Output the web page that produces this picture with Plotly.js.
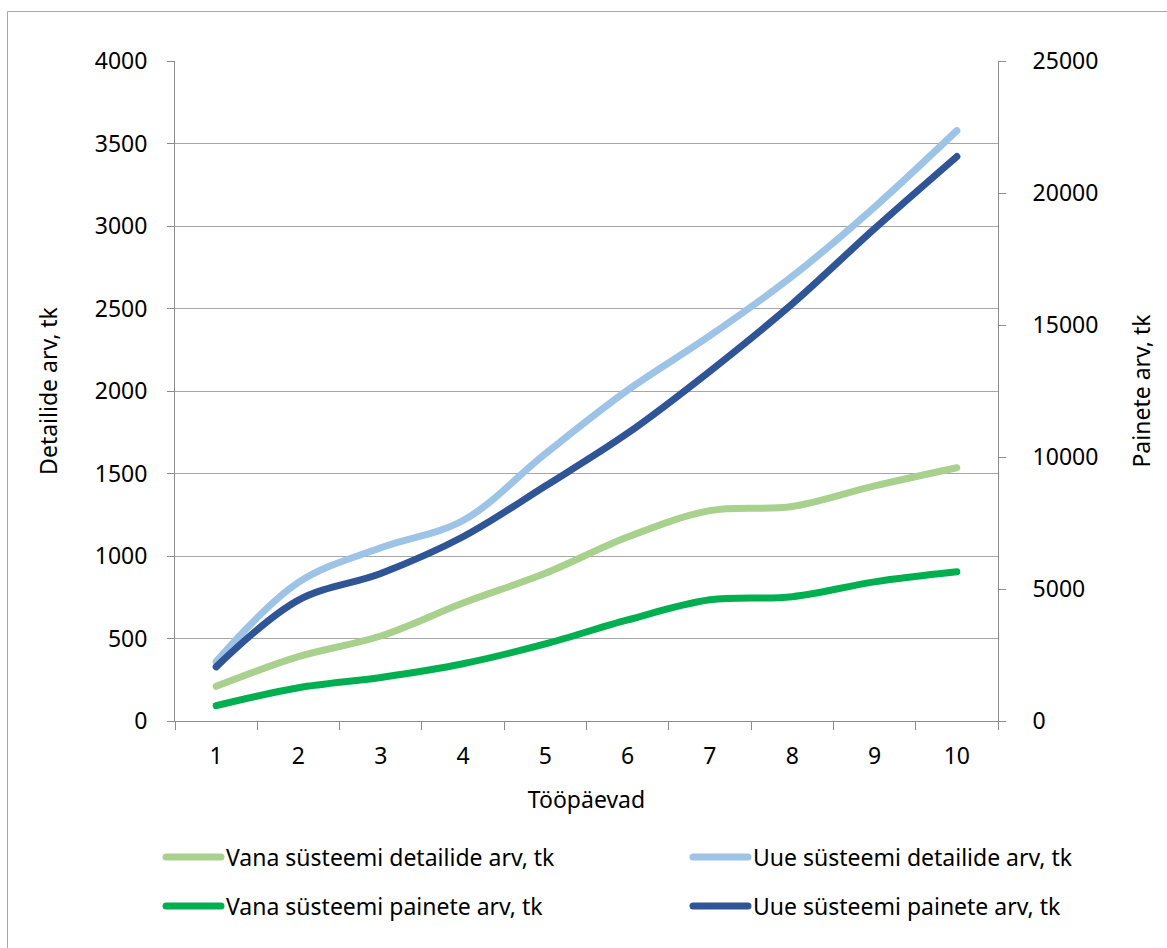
<!DOCTYPE html>
<html>
<head>
<meta charset="utf-8">
<script src="https://cdn.plot.ly/plotly-3.0.1.min.js"></script>
<style>
  html, body { margin: 0; padding: 0; background: #fff; }
  #chart { width: 1167px; height: 948px; }
  .js-line { stroke-linecap: round; }
  .legendlines path { stroke-linecap: round; }
</style>
</head>
<body>
<div id="chart"></div>
<script>
// ---- data ----
const days = ["1", "2", "3", "4", "5", "6", "7", "8", "9", "10"];
const vanaDetailid = [210, 390, 515, 715, 895, 1115, 1275, 1300, 1425, 1535];
const uueDetailid  = [360, 840, 1050, 1215, 1620, 2005, 2335, 2695, 3115, 3578];
const vanaPainded  = [580, 1260, 1650, 2170, 2920, 3830, 4590, 4710, 5270, 5650];
const uuePainded   = [2050, 4580, 5590, 6980, 8900, 10900, 13250, 15800, 18650, 21380];
const names = [
  "Vana süsteemi detailide arv, tk",
  "Uue süsteemi detailide arv, tk",
  "Vana süsteemi painete arv, tk",
  "Uue süsteemi painete arv, tk"
];
const leftTicks = [0, 500, 1000, 1500, 2000, 2500, 3000, 3500, 4000];
const rightTicks = [0, 5000, 10000, 15000, 20000, 25000];

// ---- geometry ----
const W = 1167, H = 948;
const M = { l: 175, r: 169, t: 61, b: 227 };
const pw = W - M.l - M.r, ph = H - M.t - M.b;
const px = x => (x - M.l) / pw;
const py = y => (H - M.b - y) / ph;

const FONT = "Noto Sans, Open Sans, sans-serif";
const FS = 23;
const AX = "#8c8c8c", GRID = "#a6a6a6";

function tr(y, name, color, axis, legend) {
  return {
    x: days, y: y, name: name, type: "scatter", mode: "lines",
    yaxis: axis, legend: legend,
    line: { color: color, width: 7, shape: "spline", smoothing: 1 },
    hoverinfo: "skip"
  };
}

const data = [
  tr(vanaDetailid, names[0], "#A9D18E", "y", "legend"),
  tr(uueDetailid,  names[1], "#9DC3E6", "y", "legend2"),
  tr(vanaPainded,  names[2], "#00B050", "y2", "legend3"),
  tr(uuePainded,   names[3], "#2F5597", "y2", "legend4")
];

function leg(xp, yp) {
  return {
    orientation: "h", xanchor: "left", yanchor: "middle",
    x: px(xp), y: py(yp),
    font: { family: FONT, size: FS, color: "#000" },
    itemwidth: 55,
    bgcolor: "rgba(0,0,0,0)", borderwidth: 0, itemclick: false
  };
}

const tf = { family: FONT, size: FS, color: "#000" };

const layout = {
  width: W, height: H,
  margin: M,
  paper_bgcolor: "#fff", plot_bgcolor: "#fff",
  font: tf,
  showlegend: true,
  xaxis: {
    type: "category", range: [-0.5, 9.5],
    tickson: "boundaries", ticks: "outside", ticklen: 8, tickcolor: AX, tickwidth: 1,
    showline: true, linecolor: AX, linewidth: 1,
    showgrid: false, zeroline: false,
    tickfont: tf, ticklabelstandoff: 14,
    title: { text: "Tööpäevad", font: tf, standoff: 22 },
    fixedrange: true
  },
  yaxis: {
    range: [0, 4000], tickvals: leftTicks, ticktext: leftTicks.map(String),
    ticks: "outside", ticklen: 7, tickcolor: AX, tickwidth: 1,
    showline: true, linecolor: AX, linewidth: 1,
    showgrid: true, gridcolor: GRID, gridwidth: 1, zeroline: false,
    tickfont: tf, ticklabelstandoff: 15,
    title: { text: "Detailide arv, tk", font: tf, standoff: 30 },
    fixedrange: true
  },
  yaxis2: {
    overlaying: "y", side: "right",
    range: [0, 25000], tickvals: rightTicks, ticktext: rightTicks.map(String),
    ticks: "outside", ticklen: 7, tickcolor: AX, tickwidth: 1,
    showline: true, linecolor: AX, linewidth: 1,
    showgrid: false, zeroline: false,
    tickfont: tf, ticklabelstandoff: 22,
    title: { text: "Painete arv, tk", font: tf, standoff: 36 },
    fixedrange: true
  },
  legend: leg(161, 857),
  legend2: leg(688, 857),
  legend3: leg(161, 906),
  legend4: leg(688, 906),
  shapes: [
    { type: "line", xref: "paper", yref: "paper", x0: px(7.5), x1: px(W + 5), y0: py(11.5), y1: py(11.5), line: { color: "#a6a6a6", width: 1 } },
    { type: "line", xref: "paper", yref: "paper", x0: px(7.5), x1: px(7.5), y0: py(11.5), y1: py(H + 5), line: { color: "#a6a6a6", width: 1 } }
  ]
};

Plotly.newPlot("chart", data, layout, { displayModeBar: false, staticPlot: true });
</script>
</body>
</html>
